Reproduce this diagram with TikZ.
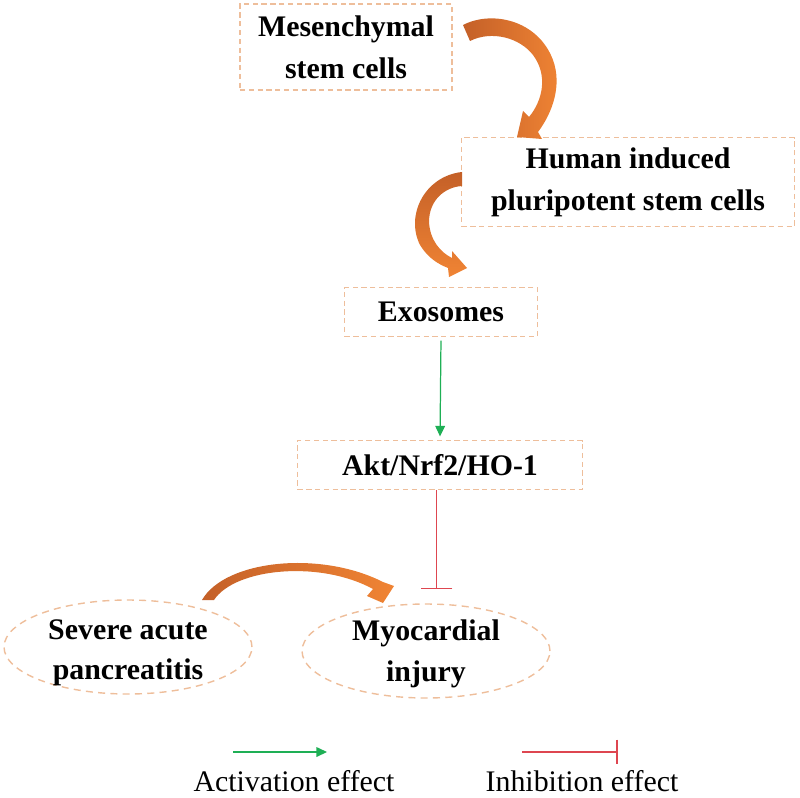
\documentclass[tikz,border=0pt]{standalone}
\usepackage{fontspec}
\setmainfont{Liberation Serif}
\usepackage{tikz}
\usetikzlibrary{arrows.meta,shapes.geometric}
\definecolor{boxline}{RGB}{238,190,155}
\definecolor{arrowdark}{RGB}{196,96,40}
\definecolor{arrowlight}{RGB}{240,132,52}
\definecolor{actgreen}{RGB}{30,175,85}
\definecolor{inhred}{RGB}{222,70,80}

\begin{document}
\begin{tikzpicture}[x=0.02cm, y=-0.02cm,
    box/.style={draw=boxline, dash pattern=on 3pt off 2pt, line width=0.6pt,
        inner sep=0pt, align=center, font=\fontsize{17}{24}\selectfont\bfseries},
    oval/.style={draw=boxline, dash pattern=on 4pt off 3pt, line width=0.8pt,
        ellipse, inner sep=0pt, minimum width=4.96cm, minimum height=1.88cm},
    ovaltext/.style={align=center, font=\fontsize{17}{23}\selectfont\bfseries},
    act/.style={actgreen, line width=0.7pt, -{Triangle[length=6pt,width=5.5pt]}},
    inh/.style={inhred, line width=0.7pt, -{Bar[width=18pt,line width=0.9pt]}},
    legend/.style={font=\fontsize{17}{20}\selectfont}]
    \useasboundingbox (0,0) rectangle (800,797);

    % Cell sources
    \node[box, minimum width=4.24cm, minimum height=1.72cm] (msc) at (346,47) {Mesenchymal\\stem cells};
    \node[box, minimum width=6.66cm, minimum height=1.78cm] (hipsc) at (628,182) {Human induced\\pluripotent stem cells};
    \node[box, minimum width=3.86cm, minimum height=0.98cm] (exo) at (441,312) {Exosomes};
    \node[box, minimum width=5.7cm, minimum height=0.98cm] (akt) at (440,465) {Akt/Nrf2/HO-1};

    % Disease and target
    \node[oval] (sap) at (128,647) {};
    \node[ovaltext] (saptext) at (128,653) {Severe acute\\pancreatitis};
    \node[oval] (mi) at (426,651) {};
    \node[ovaltext] (mitext) at (426,654) {Myocardial\\injury};

    % Curved arrows
    \shade[left color=arrowdark, right color=arrowlight]
        (463,25) .. controls (492,10) and (538,20) .. (553,60)
        .. controls (562,85) and (553,112) .. (538,132)
        -- (542,139) -- (517,137) -- (523,111)
        -- (529,117) .. controls (543,100) and (548,75) .. (533,55)
        .. controls (520,38) and (492,30) .. (470,41) -- cycle;
    \shade[top color=arrowdark, bottom color=arrowlight]
        (462,172) .. controls (425,176) and (405,215) .. (420,245)
        .. controls (428,258) and (438,264) .. (448,268)
        -- (449,277) -- (467,268) -- (452,251)
        -- (452,258) .. controls (440,252) and (430,240) .. (429,222)
        .. controls (429,200) and (445,187) .. (462,186) -- cycle;
    \shade[left color=arrowdark, right color=arrowlight]
        (202,600) .. controls (225,560) and (320,550) .. (383,582)
        -- (394,586) -- (383,603) -- (367,596)
        -- (373,589) .. controls (320,560) and (235,568) .. (214,600) -- cycle;

    % Effects
    \draw[act, shorten <=2pt, shorten >=2pt] (exo.south) -- (akt.north);
    \draw[inh, shorten >=0.28cm] ([xshift=-2pt]akt.south) -- ([xshift=-2pt]akt.south |- mi.north);

    % Legend
    \coordinate (act1) at (233,752);
    \coordinate (act2) at (327,752);
    \coordinate (inh1) at (522,752);
    \coordinate (inh2) at (618,752);
    \draw[act] (act1) -- (act2);
    \draw[inh, -{Bar[width=14pt,line width=0.9pt]}] (inh1) -- (inh2);
    \node[legend] (actlbl) at (294,781) {Activation effect};
    \node[legend] (inhlbl) at (582,781) {Inhibition effect};
\end{tikzpicture}
\end{document}
